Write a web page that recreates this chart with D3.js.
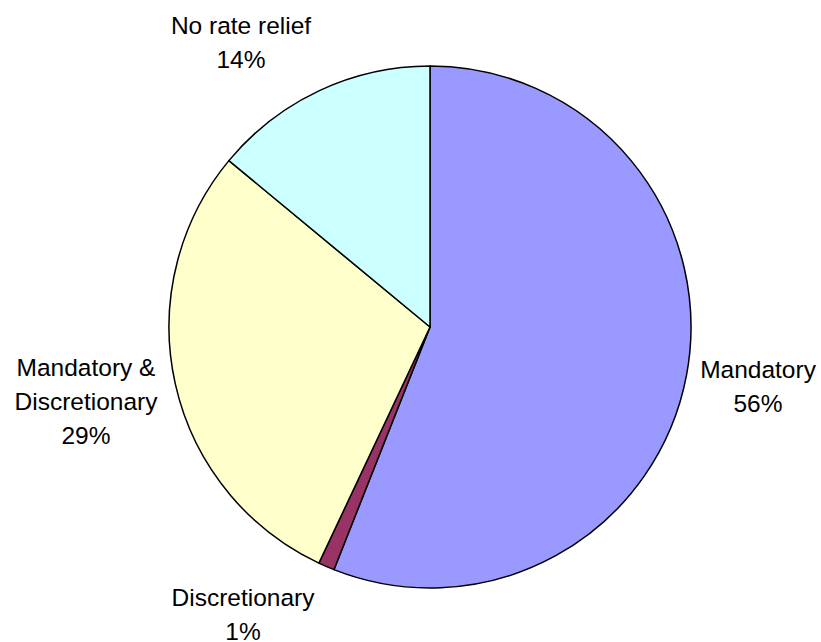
<!DOCTYPE html>
<html>
<head>
<meta charset="utf-8">
<script src="https://cdnjs.cloudflare.com/ajax/libs/d3/7.8.5/d3.min.js"></script>
<style>
  body { margin: 0; background: #fff; }
  text { font-family: "Liberation Sans", Arial, sans-serif; font-size: 24.5px; fill: #000; }
</style>
</head>
<body>
<div id="chart"></div>
<script>
// slice data, clockwise from 12 o'clock
var categories = ["Mandatory", "Discretionary", "Mandatory & Discretionary", "No rate relief"];
var values = [56, 1, 29, 14];
var colors = ["#9999FF", "#993366", "#FFFFCC", "#CCFFFF"];
// label lines and first-line baseline
var labelLines = [["Mandatory", "56%"], ["Discretionary", "1%"], ["Mandatory &", "Discretionary", "29%"], ["No rate relief", "14%"]];
var labelPos = [[758, 378], [243, 606], [86, 376], [241, 34]];

var width = 821, height = 642;
var cx = 430, cy = 327, radius = 261;

var svg = d3.select("#chart").append("svg")
    .attr("width", width)
    .attr("height", height)
    .style("display", "block");

var pie = d3.pie().sort(null).value(function(d) { return d; });
var arc = d3.arc().innerRadius(0).outerRadius(radius);

var g = svg.append("g").attr("transform", "translate(" + cx + "," + cy + ")");

g.selectAll("path")
    .data(pie(values))
    .enter()
    .append("path")
    .attr("d", arc)
    .attr("fill", function(d, i) { return colors[i]; })
    .attr("stroke", "#000")
    .attr("stroke-width", 1.5)
    .attr("stroke-linejoin", "round");

var labels = svg.selectAll(".lbl")
    .data(categories)
    .enter()
    .append("text")
    .attr("class", "lbl")
    .attr("text-anchor", "middle")
    .attr("transform", function(d, i) { return "translate(" + labelPos[i][0] + "," + labelPos[i][1] + ")"; });

labels.selectAll("tspan")
    .data(function(d, i) { return labelLines[i]; })
    .enter()
    .append("tspan")
    .attr("x", 0)
    .attr("y", function(d, j) { return j * 34; })
    .text(function(d) { return d; });
</script>
</body>
</html>
